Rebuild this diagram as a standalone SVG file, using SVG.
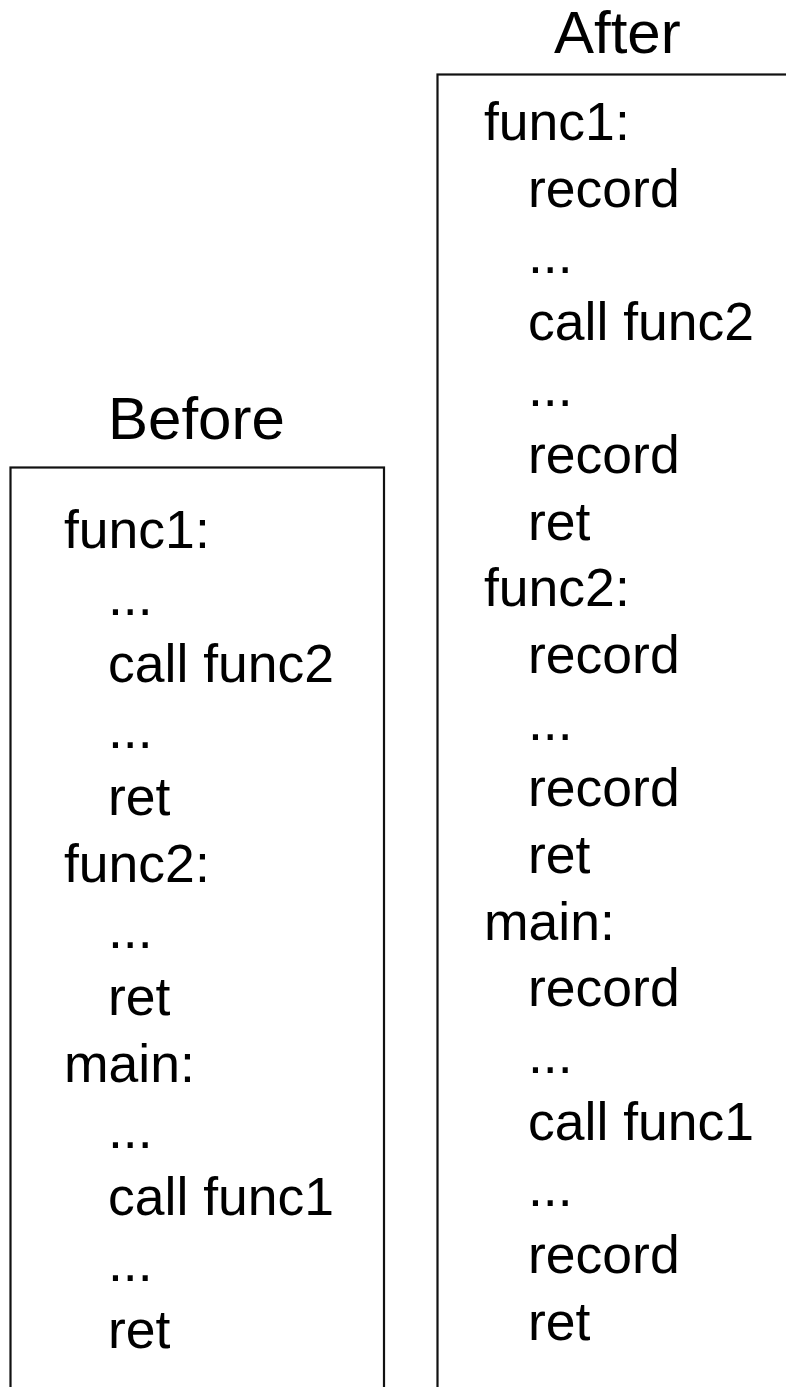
<svg xmlns="http://www.w3.org/2000/svg" width="786" height="1387" viewBox="0 0 786 1387">
  <style>
    .title { font-family: "Liberation Sans", Arial, sans-serif; font-size: 60px; fill: #000; }
    .code { font-family: "Liberation Sans", Arial, sans-serif; font-size: 53.5px; fill: #000; }
    .panel { fill: #fff; stroke: #111; stroke-width: 2.2; }
  </style>
  <rect width="786" height="1387" fill="#fff"/>

  <!-- Before: original code listing -->
  <g id="before">
    <text class="title" x="108" y="439">Before</text>
    <rect class="panel" x="10.5" y="467.5" width="373.5" height="940"/>
    <text class="code" x="64" y="548">func1:</text>
    <text class="code" x="108" y="615">...</text>
    <text class="code" x="108" y="682">call func2</text>
    <text class="code" x="108" y="748">...</text>
    <text class="code" x="108" y="815">ret</text>
    <text class="code" x="64" y="882">func2:</text>
    <text class="code" x="108" y="948">...</text>
    <text class="code" x="108" y="1015">ret</text>
    <text class="code" x="64" y="1082">main:</text>
    <text class="code" x="108" y="1148">...</text>
    <text class="code" x="108" y="1215">call func1</text>
    <text class="code" x="108" y="1281">...</text>
    <text class="code" x="108" y="1348">ret</text>
  </g>

  <!-- After: instrumented code listing -->
  <g id="after">
    <text class="title" x="554" y="53">After</text>
    <rect class="panel" x="437.5" y="74.5" width="400" height="1340"/>
    <text class="code" x="484" y="140">func1:</text>
    <text class="code" x="528" y="207">record</text>
    <text class="code" x="528" y="273">...</text>
    <text class="code" x="528" y="340">call func2</text>
    <text class="code" x="528" y="406">...</text>
    <text class="code" x="528" y="473">record</text>
    <text class="code" x="528" y="540">ret</text>
    <text class="code" x="484" y="606">func2:</text>
    <text class="code" x="528" y="673">record</text>
    <text class="code" x="528" y="740">...</text>
    <text class="code" x="528" y="806">record</text>
    <text class="code" x="528" y="873">ret</text>
    <text class="code" x="484" y="940">main:</text>
    <text class="code" x="528" y="1006">record</text>
    <text class="code" x="528" y="1073">...</text>
    <text class="code" x="528" y="1140">call func1</text>
    <text class="code" x="528" y="1206">...</text>
    <text class="code" x="528" y="1273">record</text>
    <text class="code" x="528" y="1340">ret</text>
  </g>

  <g id="connectors"/>
</svg>
